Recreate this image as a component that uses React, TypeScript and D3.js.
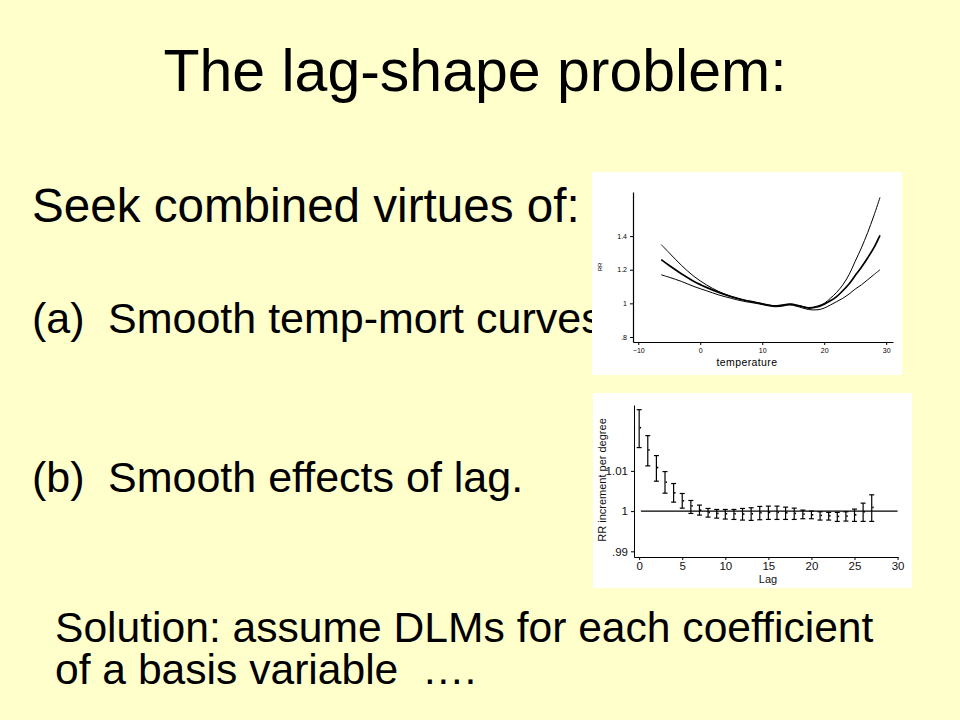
import { useEffect, useRef } from 'react';
import * as d3 from 'd3';

// temperature / RR curves (top small chart)
const tempX = [-6.3, -5, -3, -1, 1, 3, 5, 7, 9, 11, 12, 13, 14.5, 16, 17.5, 19, 20, 21, 22, 23, 24, 25, 26, 27, 28, 29];
const rrUpper = [1.35, 1.3, 1.225, 1.16, 1.11, 1.07, 1.04, 1.02, 1.005, 0.99, 0.985, 0.985, 0.995, 0.985, 0.975, 0.985, 1.0, 1.03, 1.065, 1.11, 1.17, 1.25, 1.33, 1.42, 1.52, 1.63];
const rrMid = [1.26, 1.225, 1.175, 1.13, 1.095, 1.065, 1.04, 1.02, 1.005, 0.99, 0.985, 0.988, 0.995, 0.985, 0.972, 0.98, 0.995, 1.015, 1.04, 1.075, 1.115, 1.165, 1.215, 1.27, 1.33, 1.405];
const rrLower = [1.17, 1.155, 1.13, 1.1, 1.075, 1.05, 1.03, 1.012, 1.0, 0.985, 0.98, 0.982, 0.99, 0.978, 0.963, 0.962, 0.972, 0.99, 1.01, 1.03, 1.055, 1.085, 1.11, 1.14, 1.17, 1.2];
const tempTicks = [-10, 0, 10, 20, 30];
const rrTicks = [0.8, 1, 1.2, 1.4];
const rrTickLabels = ['.8', '1', '1.2', '1.4'];

// lag effects (bottom small chart)
const lags = [0, 1, 2, 3, 4, 5, 6, 7, 8, 9, 10, 11, 12, 13, 14, 15, 16, 17, 18, 19, 20, 21, 22, 23, 24, 25, 26, 27];
const lagHi = [1.02521, 1.01876, 1.0138, 1.00983, 1.00686, 1.00438, 1.00264, 1.00149, 1.00066, 1.00041, 1.00041, 1.00041, 1.00066, 1.00083, 1.00116, 1.00124, 1.00124, 1.00099, 1.00074, 1.00025, 1.0, 0.99983, 0.99967, 0.99967, 0.99983, 1.0005, 1.00198, 1.00405];
const lagLo = [1.01579, 1.01124, 1.00744, 1.00446, 1.00223, 1.00074, 0.99942, 0.99901, 0.99851, 0.99826, 0.99802, 0.99793, 0.99777, 0.99769, 0.99785, 0.99793, 0.99793, 0.99793, 0.99793, 0.9981, 0.9981, 0.99777, 0.99777, 0.99744, 0.99752, 0.99744, 0.99744, 0.99744];
const lagEst = [1.02074, 1.01521, 1.01083, 1.00719, 1.00455, 1.00256, 1.00132, 1.00025, 0.99967, 0.99942, 0.99934, 0.99934, 0.99926, 0.99934, 0.99959, 0.99967, 0.99967, 0.99959, 0.99942, 0.99926, 0.99909, 0.99893, 0.99884, 0.99868, 0.99876, 0.99909, 0.99983, 1.00091];
const lagTicks = [0, 5, 10, 15, 20, 25, 30];
const effTicks = [0.99, 1, 1.01];
const effTickLabels = ['.99', '1', '1.01'];

const FONT = "Arial, 'Liberation Sans', sans-serif";

export default function App() {
  const ref = useRef<SVGSVGElement>(null);

  useEffect(() => {
    if (!ref.current) return;
    const svg = d3.select(ref.current);
    svg.selectAll('*').remove();

    svg.append('rect').attr('width', 960).attr('height', 720).attr('fill', '#FFFFCC');

    // 1) SLIDE TEXT
    const txt = (x: number, y: number, s: string, size: number, anchor = 'start') =>
      svg.append('text')
        .attr('x', x).attr('y', y)
        .attr('font-family', FONT)
        .attr('font-size', size)
        .attr('text-anchor', anchor)
        .attr('fill', '#000')
        .text(s);

    txt(475, 91, 'The lag-shape problem:', 59, 'middle');
    txt(32, 222, 'Seek combined virtues of:', 47.6);
    txt(32, 333, '(a)', 43);
    txt(108, 333, 'Smooth temp-mort curves', 43);
    txt(32, 492, '(b)', 43);
    txt(108, 492, 'Smooth effects of lag.', 43);
    txt(55, 642, 'Solution: assume DLMs for each coefficient', 42.6);
    txt(55, 684, 'of a basis variable  \u2026.', 42.6).attr('xml:space', 'preserve').style('white-space', 'pre');

    // 2) TOP CHART: RR vs temperature
    svg.append('rect').attr('x', 592).attr('y', 172).attr('width', 310).attr('height', 203).attr('fill', '#fff');

    const tx = d3.scaleLinear().domain([-10.85, 31.1]).range([633, 893]);
    const ty = d3.scaleLinear().domain([0.77, 1.6625]).range([342, 192]);

    const ax1 = svg.append('g').attr('transform', 'translate(0,342)')
      .call(d3.axisBottom(tx).tickValues(tempTicks).tickSize(3).tickSizeOuter(0).tickFormat(d3.format('d')));
    const ay1 = svg.append('g').attr('transform', 'translate(633,0)')
      .call(d3.axisLeft(ty).tickValues(rrTicks).tickSize(3).tickSizeOuter(0)
        .tickFormat((d, i) => rrTickLabels[i]));
    [ax1, ay1].forEach(a => {
      a.selectAll('text').attr('font-family', FONT).attr('font-size', 7).attr('fill', '#000');
      a.select('.domain').attr('stroke', '#000').attr('stroke-width', 1.2);
    });

    const line = d3.line<number>()
      .x((d, i) => tx(tempX[i]))
      .y(d => ty(d))
      .curve(d3.curveCatmullRom);

    [[rrUpper, 1], [rrLower, 1], [rrMid, 1.7]].forEach(([s, w]) => {
      svg.append('path')
        .attr('d', line(s as number[]))
        .attr('fill', 'none')
        .attr('stroke', '#000')
        .attr('stroke-width', w as number);
    });

    svg.append('text')
      .attr('transform', 'translate(602,267) rotate(-90)')
      .attr('text-anchor', 'middle')
      .attr('font-family', FONT).attr('font-size', 6)
      .text('RR');
    svg.append('text')
      .attr('x', 747).attr('y', 366)
      .attr('text-anchor', 'middle')
      .attr('font-family', FONT).attr('font-size', 10.5)
      .attr('letter-spacing', 0.4)
      .text('temperature');

    // 3) BOTTOM CHART: RR increment per degree vs lag
    svg.append('rect').attr('x', 593).attr('y', 393).attr('width', 319).attr('height', 195).attr('fill', '#fff');

    const lx = d3.scaleLinear().domain([-0.6, 30.05]).range([634, 898]);
    const ly = d3.scaleLinear().domain([0.98859, 1.02638]).range([557, 405]);

    const ax2 = svg.append('g').attr('transform', 'translate(0,557)')
      .call(d3.axisBottom(lx).tickValues(lagTicks).tickSize(3).tickSizeOuter(0).tickFormat(d3.format('d')));
    const ay2 = svg.append('g').attr('transform', 'translate(634,0)')
      .call(d3.axisLeft(ly).tickValues(effTicks).tickSize(3).tickSizeOuter(0)
        .tickFormat((d, i) => effTickLabels[i]));
    ax2.selectAll('text').attr('dy', '0.62em');
    [ax2, ay2].forEach(a => {
      a.selectAll('text').attr('font-family', FONT).attr('font-size', 11.5).attr('fill', '#111');
      a.select('.domain').attr('stroke', '#000').attr('stroke-width', 1);
    });

    // reference line at 1
    svg.append('line')
      .attr('x1', lx(0.2)).attr('x2', lx(30))
      .attr('y1', ly(1)).attr('y2', ly(1))
      .attr('stroke', '#000').attr('stroke-width', 1.2);

    const bars = svg.append('g').attr('stroke', '#000').attr('stroke-width', 1.2);
    lags.forEach((l, i) => {
      const x = lx(l);
      bars.append('line').attr('x1', x).attr('x2', x).attr('y1', ly(lagHi[i])).attr('y2', ly(lagLo[i]));
      bars.append('line').attr('x1', x - 2.5).attr('x2', x + 2.5).attr('y1', ly(lagHi[i])).attr('y2', ly(lagHi[i]));
      bars.append('line').attr('x1', x - 2.5).attr('x2', x + 2.5).attr('y1', ly(lagLo[i])).attr('y2', ly(lagLo[i]));
    });
    svg.append('g').selectAll('rect')
      .data(lagEst)
      .enter()
      .append('rect')
      .attr('x', (d, i) => lx(lags[i]) + 0.5)
      .attr('y', d => ly(d) - 0.8)
      .attr('width', 1.4)
      .attr('height', 1.6)
      .attr('fill', '#000');

    svg.append('text')
      .attr('transform', 'translate(606,480) rotate(-90)')
      .attr('text-anchor', 'middle')
      .attr('font-family', FONT).attr('font-size', 11)
      .attr('fill', '#111')
      .text('RR increment per degree');
    svg.append('text')
      .attr('x', 768).attr('y', 583)
      .attr('text-anchor', 'middle')
      .attr('font-family', FONT).attr('font-size', 11)
      .attr('fill', '#111')
      .text('Lag');
  }, []);

  return (
    <div style={{ position: 'absolute', left: 0, top: 0 }}>
      <svg ref={ref} width={960} height={720} style={{ display: 'block' }} />
    </div>
  );
}
